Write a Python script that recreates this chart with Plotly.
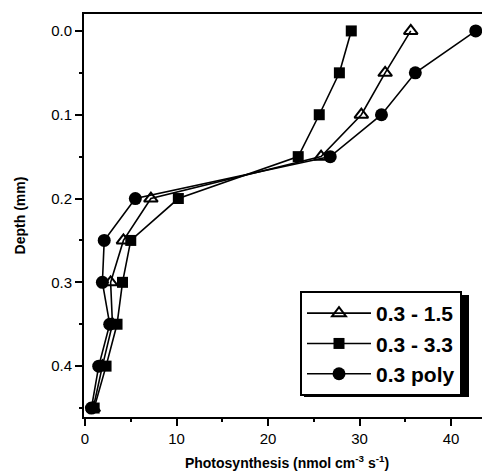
import plotly.graph_objects as go

depth = [0.0, 0.05, 0.1, 0.15, 0.2, 0.25, 0.3, 0.35, 0.4, 0.45]
tri_vals = [35.6, 32.8, 30.2, 25.8, 7.2, 4.2, 2.8, 3.0, 1.9, 0.9]
sq_vals = [29.1, 27.8, 25.6, 23.3, 10.2, 5.0, 4.1, 3.5, 2.3, 1.0]
circ_vals = [42.7, 36.1, 32.4, 26.8, 5.5, 2.1, 1.9, 2.7, 1.5, 0.7]
names = ["0.3 - 1.5", "0.3 - 3.3", "0.3 poly"]

fig = go.Figure()
fig.add_trace(go.Scatter(x=tri_vals, y=depth, name="<b>" + names[0] + "</b>", mode="lines+markers",
                         line=dict(color="black", width=1.6),
                         marker=dict(symbol="triangle-up-open", size=12, color="black",
                                     line=dict(width=2, color="black"))))
fig.add_trace(go.Scatter(x=sq_vals, y=depth, name="<b>" + names[1] + "</b>", mode="lines+markers",
                         line=dict(color="black", width=1.6),
                         marker=dict(symbol="square", size=11, color="black")))
fig.add_trace(go.Scatter(x=circ_vals, y=depth, name="<b>" + names[2] + "</b>", mode="lines+markers",
                         line=dict(color="black", width=1.6),
                         marker=dict(symbol="circle", size=13, color="black")))

# page has an 8px body margin; figure occupies page (8,8)-(490,476)
OFF = 8
W, H = 490 - OFF, 476 - OFF
# page-coordinate plot box: left 84, top 14, right 490, bottom 417
ml, mr, mt, mb = 84 - OFF, 0, 14 - OFF, 476 - 417
pw, ph = W - ml - mr, H - mt - mb


def px_x(x):  # page x -> paper
    return (x - OFF - ml) / pw


def px_y(y):  # page y -> paper
    return (H - mb - (y - OFF)) / ph


fig.update_layout(
    width=W, height=H,
    margin=dict(l=ml, r=mr, t=mt, b=mb, autoexpand=False),
    plot_bgcolor="white", paper_bgcolor="white",
    font=dict(family="Liberation Sans, Arial, sans-serif", color="black", size=15),
    showlegend=True,
    legend=dict(x=px_x(300), y=px_y(291),
                xanchor="left", yanchor="top",
                bgcolor="white", bordercolor="black", borderwidth=2,
                font=dict(size=21, family="Liberation Sans, Arial, sans-serif"),
                tracegroupgap=0, itemwidth=64),
    xaxis=dict(range=[-0.11, 44.26], showgrid=False, zeroline=False, automargin=False,
               showline=True, linecolor="black", linewidth=2, mirror=True,
               ticks="outside", ticklen=7, tickwidth=1.5, tickcolor="black",
               tickvals=[0, 10, 20, 30, 40],
               minor=dict(tickvals=[5, 15, 25, 35], ticks="outside", ticklen=3,
                          tickcolor="black", tickwidth=1.5),
               title=dict(text="<b>Photosynthesis (nmol cm<sup>-3</sup> s<sup>-1</sup>)</b>",
                          font=dict(size=14), standoff=12)),
    yaxis=dict(range=[0.4607, -0.0202], showgrid=False, zeroline=False, automargin=False,
               showline=True, linecolor="black", linewidth=2,
               ticks="outside", ticklen=7, tickwidth=1.5, tickcolor="black",
               tickvals=[0.0, 0.1, 0.2, 0.3, 0.4], tickformat=".1f",
               minor=dict(tickvals=[0.05, 0.15, 0.25, 0.35, 0.45], ticks="outside",
                          ticklen=3, tickcolor="black", tickwidth=1.5),
               title=dict(text="<b>Depth (mm)</b>", font=dict(size=14), standoff=22)),
)

# legend drop shadow
fig.add_shape(type="rect", xref="paper", yref="paper",
              x0=px_x(304), x1=px_x(469),
              y0=px_y(397), y1=px_y(295),
              fillcolor="black", line=dict(width=0), layer="above")

fig.write_html("out.html")
